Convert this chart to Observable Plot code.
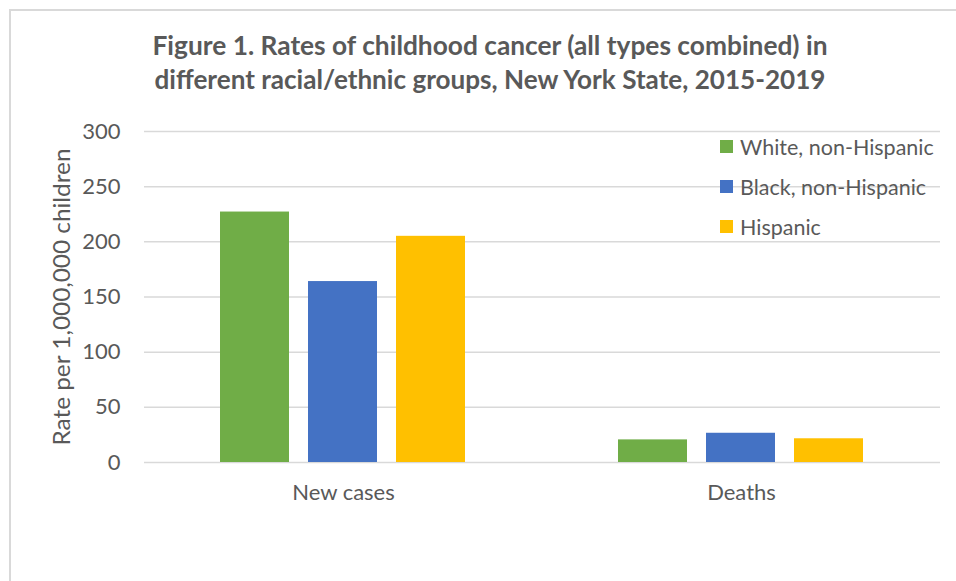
<!DOCTYPE html>
<html>
<head>
<meta charset="utf-8">
<script src="https://cdn.jsdelivr.net/npm/d3@7"></script>
<script src="https://cdn.jsdelivr.net/npm/@observablehq/plot@0.6"></script>
<style>
  html, body { margin: 0; padding: 0; background: #fff; overflow: hidden; }
  #wrap { position: relative; width: 956px; height: 581px; overflow: hidden; font-family: Lato, "Open Sans", sans-serif; }
  #frame { position: absolute; left: 9px; top: 9px; width: 1100px; height: 1100px; border: 2px solid #D9D9D9; box-sizing: border-box; }
  #chart { position: absolute; left: 0; top: 0; }
  #overlay { position: absolute; left: 0; top: 0; pointer-events: none; }
</style>
</head>
<body>
<div id="wrap">
  <div id="frame"></div>
  <div id="chart"></div>
  <svg id="overlay" width="956" height="581"></svg>
</div>
<script>
const titleLines = [
  "Figure 1. Rates of childhood cancer (all types combined) in",
  "different racial/ethnic groups, New York State, 2015-2019"
];
const yLabel = "Rate per 1,000,000 children";
const measures = ["New cases", "Deaths"];
const groups = ["White, non-Hispanic", "Black, non-Hispanic", "Hispanic"];
const colors = ["#70AD47", "#4472C4", "#FFC000"];
const newCases = [227, 164, 205];
const deaths = [20.5, 26.5, 21.5];
const yTicks = [0, 50, 100, 150, 200, 250, 300];

const data = [];
groups.forEach((g, i) => {
  data.push({measure: measures[0], group: g, value: newCases[i]});
  data.push({measure: measures[1], group: g, value: deaths[i]});
});

const textColor = "#595959";
const font = "Lato, 'Open Sans', sans-serif";

const plot = Plot.plot({
  width: 956,
  height: 581,
  marginLeft: 143,
  marginRight: 16,
  marginTop: 131,
  marginBottom: 119,
  style: {fontFamily: font, fontSize: "22px", color: textColor, background: "transparent"},
  fx: {domain: measures, padding: 0, label: null, axis: null},
  x: {domain: groups, paddingInner: 0.213, paddingOuter: 0.845, axis: null},
  y: {domain: [0, 300], label: null},
  color: {domain: groups, range: colors},
  marks: [
    Plot.ruleY(yTicks, {stroke: "#D9D9D9", strokeWidth: 1.5}),
    Plot.barY(data, {fx: "measure", x: "group", y: "value", fill: "group"}),
    Plot.axisY(yTicks, {tickSize: 0, tickPadding: 24, fontSize: 22, fill: textColor, label: null}),
    Plot.axisFx({tickSize: 0, tickPadding: 22, fontSize: 22, fill: textColor, label: null, anchor: "bottom"})
  ]
});
document.getElementById("chart").appendChild(plot);

// overlay: title, y label, legend
const svg = d3.select("#overlay");
const tl = [[490, 55, 675], [490, 89, 671]];
titleLines.forEach((t, i) => {
  svg.append("text")
    .attr("x", tl[i][0]).attr("y", tl[i][1])
    .attr("text-anchor", "middle")
    .attr("font-family", font)
    .attr("font-weight", "bold")
    .attr("font-size", 26)
    .attr("fill", textColor)
    .attr("textLength", tl[i][2])
    .attr("lengthAdjust", "spacingAndGlyphs")
    .text(t);
});
svg.append("text")
  .attr("transform", "translate(70,297) rotate(-90)")
  .attr("text-anchor", "middle")
  .attr("font-family", font)
  .attr("font-size", 24)
  .attr("fill", textColor)
  .attr("textLength", 297)
  .attr("lengthAdjust", "spacingAndGlyphs")
  .text(yLabel);
groups.forEach((g, i) => {
  const cy = 147 + i * 40;
  svg.append("rect").attr("x", 720).attr("y", cy - 7).attr("width", 13).attr("height", 13).attr("fill", colors[i]);
  svg.append("text").attr("x", 740).attr("y", cy + 8)
    .attr("font-family", font)
    .attr("font-size", 21.5).attr("fill", textColor).text(g);
});
</script>
</body>
</html>
